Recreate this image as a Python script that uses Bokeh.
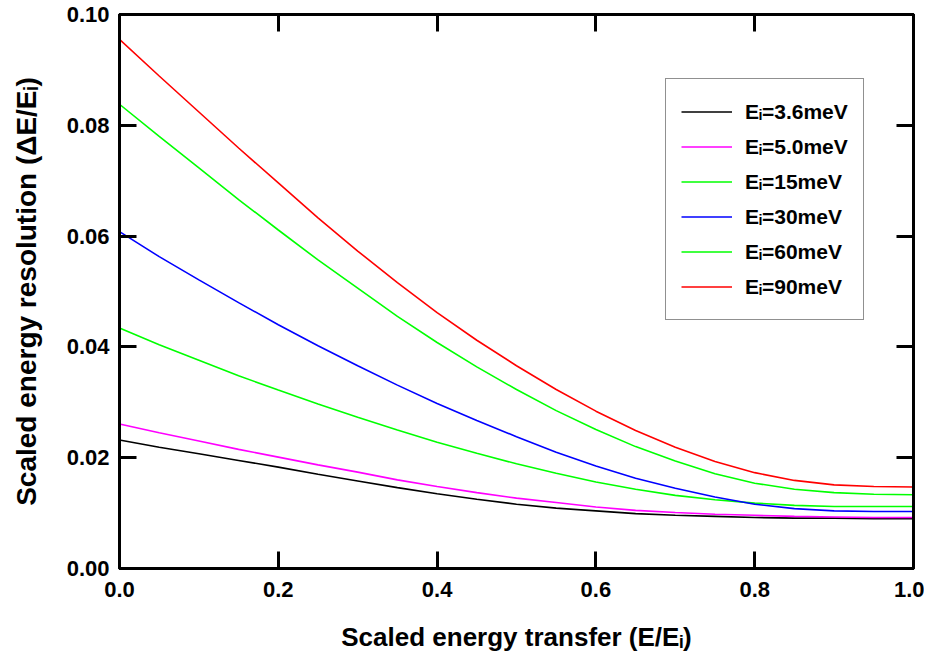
from bokeh.plotting import figure
from bokeh.models import (LinearAxis, Range1d, Legend, LegendItem, FixedTicker,
                          NumeralTickFormatter, CustomJSTickFormatter)
from bokeh.embed import file_html
from bokeh.resources import INLINE

# ---------------- data ----------------
x = [0.00, 0.05, 0.10, 0.15, 0.20, 0.25, 0.30, 0.35, 0.40, 0.45, 0.50,
     0.55, 0.60, 0.65, 0.70, 0.75, 0.80, 0.85, 0.90, 0.95, 1.00]

ei_3p6 = [0.0232, 0.0219, 0.0207, 0.0195, 0.0183, 0.0170, 0.0158, 0.0146, 0.0135, 0.0125, 0.0116,
          0.0109, 0.0104, 0.0099, 0.0096, 0.0094, 0.0092, 0.0091, 0.0091, 0.0090, 0.0090]
ei_5p0 = [0.0261, 0.0245, 0.0230, 0.0215, 0.0201, 0.0187, 0.0174, 0.0160, 0.0148, 0.0137, 0.0127,
          0.0119, 0.0111, 0.0105, 0.0101, 0.0098, 0.0096, 0.0094, 0.0093, 0.0092, 0.0092]
ei_15 = [0.0434, 0.0404, 0.0376, 0.0348, 0.0322, 0.0297, 0.0273, 0.0250, 0.0228, 0.0208, 0.0189,
         0.0172, 0.0156, 0.0143, 0.0132, 0.0124, 0.0118, 0.0114, 0.0112, 0.0112, 0.0112]
ei_30 = [0.0608, 0.0563, 0.0521, 0.0480, 0.0440, 0.0402, 0.0366, 0.0331, 0.0298, 0.0267, 0.0238,
         0.0210, 0.0185, 0.0163, 0.0145, 0.0129, 0.0116, 0.0108, 0.0104, 0.0103, 0.0103]
ei_60 = [0.0838, 0.0780, 0.0723, 0.0666, 0.0611, 0.0557, 0.0506, 0.0455, 0.0408, 0.0364, 0.0323,
         0.0285, 0.0251, 0.0220, 0.0194, 0.0171, 0.0154, 0.0143, 0.0137, 0.0134, 0.0133]
ei_90 = [0.0955, 0.0889, 0.0824, 0.0759, 0.0696, 0.0633, 0.0573, 0.0516, 0.0462, 0.0412, 0.0366,
         0.0323, 0.0284, 0.0249, 0.0219, 0.0193, 0.0173, 0.0159, 0.0151, 0.0148, 0.0147]

series_values = [ei_3p6, ei_5p0, ei_15, ei_30, ei_60, ei_90]
series_labels = ["E\u1d62=3.6meV", "E\u1d62=5.0meV", "E\u1d62=15meV",
                 "E\u1d62=30meV", "E\u1d62=60meV", "E\u1d62=90meV"]
series_colors = ["#000000", "#ff00ff", "#00ff00", "#0000ff", "#00ff00", "#ff0000"]

x_ticks = [0.0, 0.2, 0.4, 0.6, 0.8, 1.0]
y_ticks = [0.00, 0.02, 0.04, 0.06, 0.08, 0.10]

x_title = "Scaled energy transfer (E/E\u1d62)"
y_title = "Scaled energy resolution (\u0394E/E\u1d62)"

FONT = "Liberation Sans"

# ---------------- figure ----------------
p = figure(width=924, height=654, x_range=Range1d(0, 1), y_range=Range1d(0, 0.1),
           output_backend="svg", toolbar_location=None,
           min_border_left=119, min_border_right=11, min_border_top=14, min_border_bottom=84)
p.grid.visible = False
p.outline_line_color = "black"
p.outline_line_width = 3
p.background_fill_color = "white"
p.border_fill_color = "white"


def style_axis(ax, ticks):
    ax.ticker = FixedTicker(ticks=ticks)
    ax.axis_line_width = 3
    ax.axis_line_color = "black"
    ax.major_tick_in = 17
    ax.major_tick_out = 0
    ax.major_tick_line_width = 3
    ax.major_tick_line_color = "black"
    ax.minor_tick_line_color = None
    ax.major_label_text_font = FONT
    ax.major_label_text_font_style = "bold"
    ax.major_label_text_font_size = "22px"
    ax.major_label_text_color = "black"
    ax.axis_label_text_font = FONT
    ax.axis_label_text_font_style = "bold"
    ax.axis_label_text_color = "black"


style_axis(p.xaxis[0], x_ticks)
style_axis(p.yaxis[0], y_ticks)
p.xaxis[0].formatter = NumeralTickFormatter(format="0.0")
p.yaxis[0].formatter = NumeralTickFormatter(format="0.00")
p.xaxis[0].major_label_standoff = 13
p.yaxis[0].major_label_standoff = 10
p.xaxis[0].axis_label = x_title
p.yaxis[0].axis_label = y_title
p.xaxis[0].axis_label_text_font_size = "26px"
p.yaxis[0].axis_label_text_font_size = "28px"
p.xaxis[0].axis_label_standoff = 22
p.yaxis[0].axis_label_standoff = 22

for place, ticks in (("above", x_ticks), ("right", y_ticks)):
    ax = LinearAxis()
    style_axis(ax, ticks)
    ax.formatter = CustomJSTickFormatter(code="return ''")
    ax.major_label_text_font_size = "0px"
    ax.major_label_standoff = 0
    p.add_layout(ax, place)

# ---------------- curves ----------------
items = []
for vals, lab, col in zip(series_values, series_labels, series_colors):
    r = p.line(x, vals, line_color=col, line_width=1.6)
    items.append(LegendItem(label=lab, renderers=[r]))

legend = Legend(items=items, location=(546, 248))
legend.label_text_font = FONT
legend.label_text_font_style = "bold"
legend.label_text_font_size = "21px"
legend.label_text_color = "black"
legend.glyph_width = 51
legend.glyph_height = 35
legend.label_height = 35
legend.label_standoff = 13
legend.padding = 15
legend.spacing = 0
legend.margin = 0
legend.border_line_color = "#222222"
legend.border_line_width = 1.5
legend.background_fill_color = "white"
legend.background_fill_alpha = 1
p.add_layout(legend)

open("out.html", "w").write(file_html(p, INLINE))
